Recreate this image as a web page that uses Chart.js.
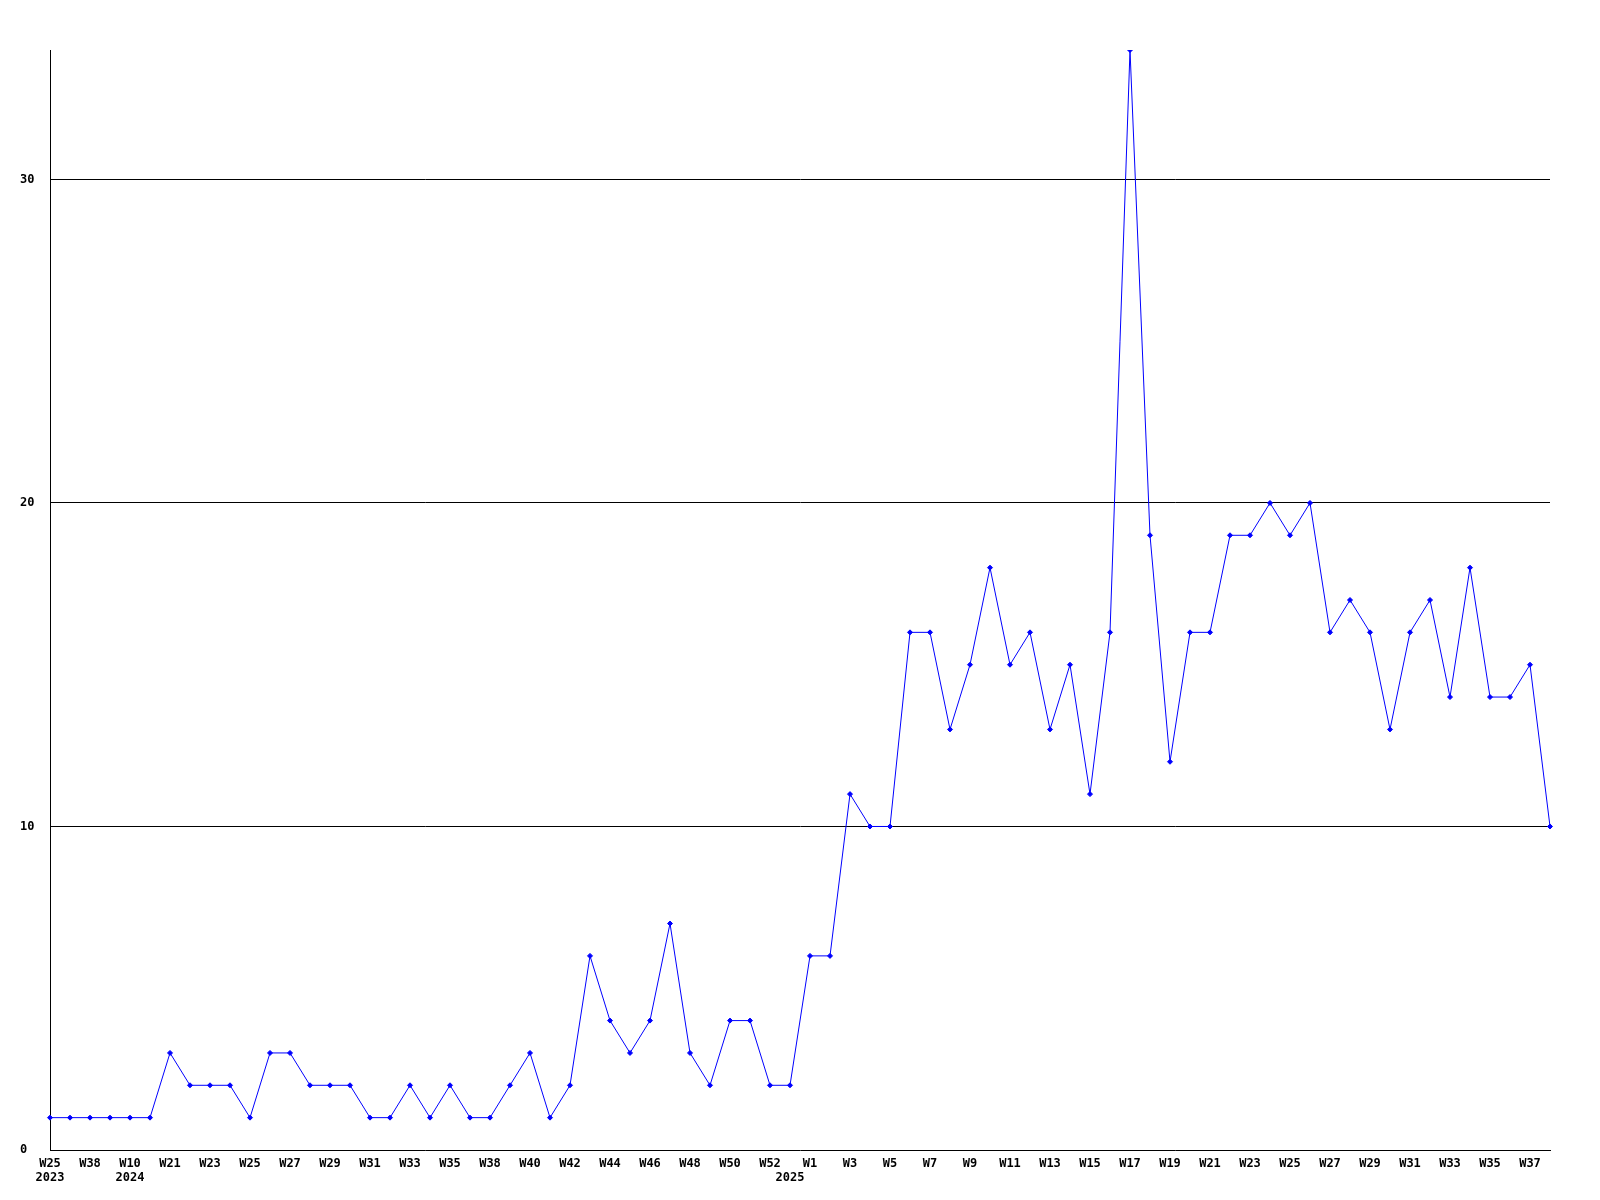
<!DOCTYPE html>
<html>
<head>
<meta charset="utf-8">
<script src="https://cdn.jsdelivr.net/npm/chart.js@4"></script>
<style>
  html, body { margin: 0; padding: 0; background: #fff; }
  canvas { display: block; }
</style>
</head>
<body>
<canvas id="chart" width="1600" height="1200"></canvas>
<script>
// weekly counts, one per point
const weeks = [
  'W25', 'W30', 'W38', 'W47', 'W10', 'W16', 'W21', 'W22', 'W23', 'W24',
  'W25', 'W26', 'W27', 'W28', 'W29', 'W30', 'W31', 'W32', 'W33', 'W34',
  'W35', 'W37', 'W38', 'W39', 'W40', 'W41', 'W42', 'W43', 'W44', 'W45',
  'W46', 'W47', 'W48', 'W49', 'W50', 'W51', 'W52', 'W53', 'W1', 'W2',
  'W3', 'W4', 'W5', 'W6', 'W7', 'W8', 'W9', 'W10', 'W11', 'W12',
  'W13', 'W14', 'W15', 'W16', 'W17', 'W18', 'W19', 'W20', 'W21', 'W22',
  'W23', 'W24', 'W25', 'W26', 'W27', 'W28', 'W29', 'W30', 'W31', 'W32',
  'W33', 'W34', 'W35', 'W36', 'W37', 'W38'
];
const counts = [
  1, 1, 1, 1, 1, 1, 3, 2, 2, 2,
  1, 3, 3, 2, 2, 2, 1, 1, 2, 1,
  2, 1, 1, 2, 3, 1, 2, 6, 4, 3,
  4, 7, 3, 2, 4, 4, 2, 2, 6, 6,
  11, 10, 10, 16, 16, 13, 15, 18, 15, 16,
  13, 15, 11, 16, 34, 19, 12, 16, 16, 19,
  19, 20, 19, 20, 16, 17, 16, 13, 16, 17,
  14, 18, 14, 14, 15, 10
];
const yearIdx = [0, 4, 37];
const yearNames = ['2023', '2024', '2025'];
const yTicks = [0, 10, 20, 30];

const font = { family: "'DejaVu Sans Mono', monospace", size: 12, weight: 'bold', lineHeight: '14px' };

const ctx = document.getElementById('chart').getContext('2d');
new Chart(ctx, {
  type: 'line',
  data: {
    labels: weeks,
    datasets: [{
      data: counts,
      borderColor: '#0000ff',
      backgroundColor: '#0000ff',
      borderWidth: 1,
      pointStyle: 'rectRot',
      pointRadius: 2.5,
      pointBorderWidth: 1,
      tension: 0,
      fill: false
    }]
  },
  options: {
    responsive: false,
    animation: false,
    devicePixelRatio: 1,
    layout: { padding: { left: 20, top: 50, right: 50, bottom: 0 } },
    plugins: { legend: { display: false }, tooltip: { enabled: false } },
    scales: {
      x: {
        offset: false,
        grid: { display: false, drawTicks: false },
        border: { color: '#000', width: 1 },
        ticks: {
          autoSkip: false,
          maxRotation: 0,
          padding: 7,
          color: '#000',
          font: font,
          callback: function (v, i) {
            const y = yearIdx.indexOf(i);
            const wk = i % 2 ? '' : weeks[i];
            return y >= 0 ? [wk, yearNames[y]] : wk;
          }
        },
        afterFit: function (s) { s.height = 50; }
      },
      y: {
        min: 0,
        max: 34,
        afterBuildTicks: function (s) { s.ticks = yTicks.map(v => ({ value: v })); },
        ticks: { crossAlign: 'far', padding: 0, color: '#000', font: font },
        grid: {
          color: '#000',
          drawTicks: false,
          lineWidth: c => (c.tick && c.tick.value === 0 ? 0 : 1)
        },
        border: { color: '#000', width: 1 },
        afterFit: function (s) { s.width = 30; }
      }
    }
  }
});
</script>
</body>
</html>
